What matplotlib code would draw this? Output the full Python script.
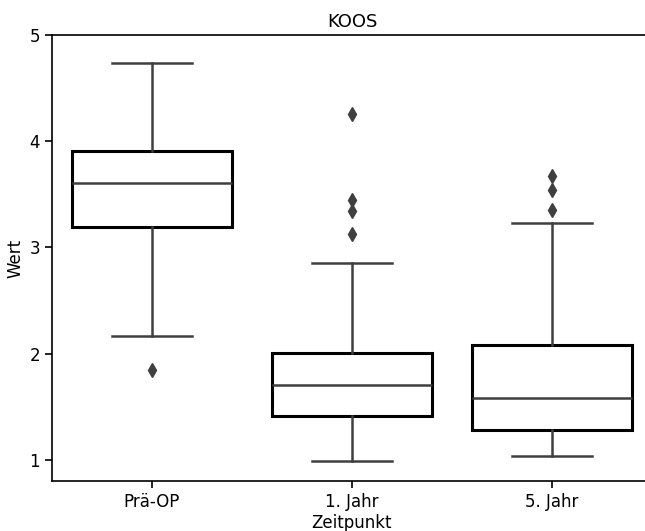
import matplotlib
matplotlib.use("Agg")
import matplotlib.pyplot as plt

# Boxplot-Kennwerte
zeitpunkte = ["Prä-OP", "1. Jahr", "5. Jahr"]
whisker_low = [2.17, 0.99, 1.04]
q1 = [3.19, 1.41, 1.28]
median = [3.61, 1.70, 1.58]
q3 = [3.91, 2.01, 2.08]
whisker_high = [4.74, 2.85, 3.23]
ausreisser = [[1.85], [4.26, 3.45, 3.34, 3.13], [3.67, 3.54, 3.35]]

stats = []
for i, name in enumerate(zeitpunkte):
    stats.append({"label": name, "whislo": whisker_low[i], "q1": q1[i], "med": median[i],
                  "q3": q3[i], "whishi": whisker_high[i], "fliers": ausreisser[i]})

fig = plt.figure(figsize=(6.45, 5.31), dpi=100)
ax = fig.add_axes([52 / 645, 1 - 481 / 531, 600 / 645, 446 / 531])

grey = "#3f3f3f"
ax.bxp(stats, positions=range(len(zeitpunkte)), widths=0.8, patch_artist=True,
       boxprops=dict(facecolor="white", edgecolor="black", linewidth=2.2),
       whiskerprops=dict(color=grey, linewidth=1.8),
       capprops=dict(color=grey, linewidth=1.8),
       medianprops=dict(color=grey, linewidth=1.8),
       flierprops=dict(marker="d", markerfacecolor=grey, markeredgecolor=grey, markersize=7))

ax.set_xlim(-0.5, 2.5)
ax.set_ylim(0.8, 5)
ax.set_yticks([1, 2, 3, 4, 5])
ax.set_xticks(range(len(zeitpunkte)))
ax.set_xticklabels(zeitpunkte)
ax.tick_params(labelsize=12, length=5, width=1.2)
for s in ax.spines.values():
    s.set_linewidth(1.2)

ax.set_title("KOOS", fontsize=13)
ax.set_xlabel("Zeitpunkt", fontsize=12, labelpad=2)
ax.set_ylabel("Wert", fontsize=12)

fig.savefig("out.png", dpi=100)
